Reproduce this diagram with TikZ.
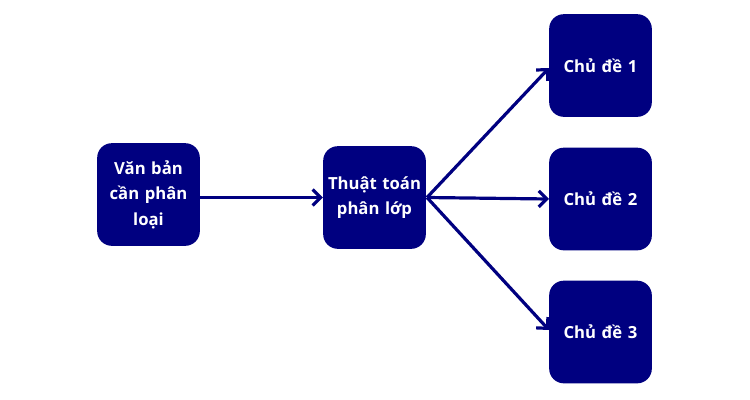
\documentclass[tikz,border=0pt]{standalone}
\usepackage{fontspec}
\setmainfont{Open Sans}
\usetikzlibrary{arrows.meta}
\definecolor{navy}{HTML}{000080}
\begin{document}
\begin{tikzpicture}[x=0.75pt,y=-0.75pt,
  box/.style={draw=none,fill=navy,rounded corners=11pt,minimum width=77pt,minimum height=77pt,inner sep=0pt,
    text=white,font=\bfseries\fontsize{12.5}{19}\selectfont,align=center,text width=72pt},
  conn/.style={draw=navy,line width=2.4pt,-{Straight Barb[length=6pt,width=12pt,line width=2.4pt]}}]
\useasboundingbox[fill=white] (0,0) rectangle (750,400);
\node[box] (doc) at (148.5,194.5) {Văn bản\\cần phân\\loại};
\node[box] (alg) at (374.5,197.5) {Thuật toán\\phân lớp};
\node[box] (t1) at (600.5,65.5) {Chủ đề 1};
\node[box] (t2) at (600.5,199) {Chủ đề 2};
\node[box] (t3) at (600.5,332) {Chủ đề 3};
\coordinate (src) at (427,197.5);
\coordinate (e1) at (549,68);
\coordinate (e2) at (549,199);
\coordinate (e3) at (549,330);
\draw[conn] (doc.east |- src) -- (alg.west);
\draw[conn] (src) -- (e1);
\draw[conn] (src) -- (e2);
\draw[conn] (src) -- (e3);
\end{tikzpicture}
\end{document}
